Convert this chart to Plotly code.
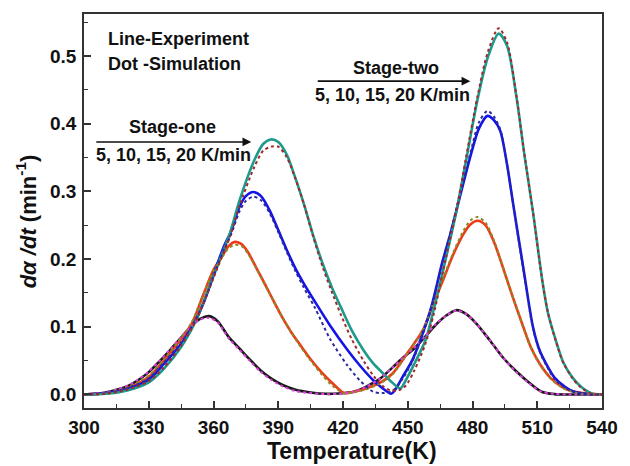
import plotly.graph_objects as go

# ---------------- data ----------------
# 5 K/min experiment (black) and simulation (magenta dots)
T_5 = [300, 305, 310, 315, 320, 325, 330, 335, 340, 345, 350, 354, 358, 362, 367, 372, 377, 382, 387, 392,
       398, 405, 412, 418, 425, 431, 437, 443, 448, 453, 458, 463, 468, 472.5, 477, 482, 488, 494, 500, 506,
       512, 518, 525, 540]
exp_5 = [0, 0.001, 0.003, 0.007, 0.012, 0.021, 0.033, 0.049, 0.066, 0.084, 0.102, 0.112, 0.1157, 0.108, 0.085,
         0.068, 0.051, 0.035, 0.023, 0.014, 0.007, 0.003, 0.001, 0.0015, 0.004, 0.012, 0.023, 0.040, 0.055, 0.068,
         0.085, 0.103, 0.117, 0.1245, 0.119, 0.104, 0.080, 0.055, 0.035, 0.018, 0.004, 0.0005, 0, 0]
sim_5 = [0, 0.001, 0.003, 0.007, 0.013, 0.022, 0.034, 0.050, 0.067, 0.085, 0.102, 0.111, 0.113, 0.106, 0.083,
         0.066, 0.049, 0.033, 0.021, 0.012, 0.005, 0.002, 0.0005, 0.001, 0.004, 0.012, 0.023, 0.040, 0.055, 0.069,
         0.086, 0.104, 0.117, 0.124, 0.119, 0.104, 0.080, 0.055, 0.034, 0.017, 0.004, 0.001, 0, 0]

# 10 K/min experiment (red) and simulation (olive dots)
T_10 = [300, 310, 320, 330, 337, 345, 350, 355, 360, 364.5, 367, 370, 373, 376, 380, 384, 388, 392, 396, 400,
        405, 410, 415, 420.5, 425, 430, 437, 443, 450, 457, 462, 466, 471, 476, 479, 482.3, 486, 490, 493, 498,
        503.5, 507, 511, 516, 521.6, 526, 531, 540]
exp_10 = [0, 0.002, 0.009, 0.026, 0.050, 0.082, 0.105, 0.145, 0.184, 0.207, 0.219, 0.2254, 0.222, 0.210, 0.186,
          0.162, 0.137, 0.113, 0.092, 0.074, 0.052, 0.033, 0.017, 0.002, 0.004, 0.008, 0.017, 0.031, 0.062, 0.095,
          0.135, 0.166, 0.206, 0.238, 0.251, 0.2565, 0.250, 0.225, 0.198, 0.150, 0.100, 0.070, 0.046, 0.025, 0.011,
          0.005, 0.002, 0]
sim_10 = [0, 0.002, 0.010, 0.028, 0.052, 0.084, 0.107, 0.146, 0.182, 0.205, 0.216, 0.221, 0.219, 0.208, 0.185,
          0.161, 0.137, 0.114, 0.092, 0.072, 0.050, 0.030, 0.013, 0.002, 0.003, 0.007, 0.016, 0.030, 0.061, 0.095,
          0.136, 0.168, 0.209, 0.243, 0.257, 0.262, 0.254, 0.227, 0.199, 0.150, 0.099, 0.069, 0.045, 0.024, 0.010,
          0.004, 0.001, 0]

# 15 K/min experiment (blue) and simulation (navy dots)
T_15 = [300, 310, 320, 330, 337, 345, 351, 356, 361, 365, 368, 372, 375, 378.5, 382, 386, 390, 394, 398, 402,
        407, 414, 422, 428, 434, 438, 442.3, 444, 448, 452, 456, 461, 466, 470, 474, 479.3, 483, 486.9, 490, 492.9,
        496, 498.9, 503.5, 508, 511, 514, 518, 523, 527, 532, 540]
exp_15 = [0, 0.002, 0.008, 0.022, 0.045, 0.075, 0.105, 0.140, 0.186, 0.220, 0.240, 0.277, 0.293, 0.299, 0.293,
          0.272, 0.243, 0.213, 0.186, 0.163, 0.137, 0.102, 0.066, 0.042, 0.021, 0.010, 0.001, 0.006, 0.028, 0.050,
          0.082, 0.130, 0.195, 0.240, 0.290, 0.355, 0.393, 0.4115, 0.405, 0.389, 0.340, 0.280, 0.188, 0.100, 0.066,
          0.046, 0.025, 0.011, 0.004, 0.001, 0]
sim_15 = [0, 0.002, 0.009, 0.024, 0.047, 0.077, 0.106, 0.140, 0.183, 0.215, 0.235, 0.270, 0.286, 0.292, 0.287,
          0.268, 0.240, 0.210, 0.182, 0.157, 0.128, 0.082, 0.043, 0.020, 0.004, 0.002, 0.004, 0.008, 0.025, 0.048,
          0.080, 0.128, 0.195, 0.242, 0.292, 0.360, 0.402, 0.419, 0.410, 0.391, 0.340, 0.279, 0.185, 0.098, 0.064,
          0.044, 0.023, 0.010, 0.004, 0.001, 0]

# 20 K/min experiment (teal) and simulation (dark red dots)
T_20 = [300, 310, 320, 330, 337, 345, 352, 357, 361.6, 367.6, 372.1, 378.9, 383, 386.5, 390, 394, 397.8, 402, 406,
        410.6, 415, 419, 424, 429.5, 434, 438.6, 442, 446.5, 449.1, 453, 458.2, 462, 466.5, 472.5, 477, 482.3, 487,
        492.1, 496, 500.4, 504, 508, 512.5, 515, 518.6, 522, 526.1, 530, 535.2, 540]
exp_20 = [0, 0.001, 0.006, 0.018, 0.038, 0.070, 0.110, 0.150, 0.188, 0.238, 0.287, 0.346, 0.370, 0.3767, 0.373,
          0.354, 0.321, 0.280, 0.237, 0.193, 0.157, 0.129, 0.095, 0.0654, 0.046, 0.031, 0.020, 0.009, 0.021, 0.045,
          0.080, 0.125, 0.185, 0.270, 0.345, 0.435, 0.497, 0.533, 0.515, 0.4387, 0.355, 0.270, 0.165, 0.120, 0.080,
          0.048, 0.026, 0.012, 0.0015, 0]
sim_20 = [0, 0.001, 0.007, 0.020, 0.040, 0.072, 0.110, 0.148, 0.185, 0.233, 0.279, 0.336, 0.360, 0.366, 0.366,
          0.350, 0.320, 0.280, 0.235, 0.188, 0.150, 0.118, 0.082, 0.050, 0.028, 0.012, 0.006, 0.007, 0.013, 0.035,
          0.075, 0.118, 0.185, 0.272, 0.350, 0.440, 0.505, 0.541, 0.520, 0.440, 0.356, 0.270, 0.164, 0.120, 0.079,
          0.047, 0.025, 0.011, 0.001, 0]

x_ticks = [300, 330, 360, 390, 420, 450, 480, 510, 540]
y_ticks = [0.0, 0.1, 0.2, 0.3, 0.4, 0.5]

# ---------------- styles ----------------
FONT = "Liberation Sans, Arial, sans-serif"
exp_series = [(T_5, exp_5, "#1a1a1a"), (T_10, exp_10, "#f03a16"),
              (T_15, exp_15, "#1414e6"), (T_20, exp_20, "#1e9a8c")]
sim_series = [(T_5, sim_5, "#e040e0"), (T_10, sim_10, "#8a8a2a"),
              (T_15, sim_15, "#2a2aa0"), (T_20, sim_20, "#a02a2a")]

fig = go.Figure()
for t, v, c in exp_series:
    fig.add_trace(go.Scatter(x=t, y=v, mode="lines",
                             line=dict(color=c, width=2.6, shape="spline", smoothing=0.8),
                             showlegend=False, hoverinfo="skip"))
for t, v, c in sim_series:
    fig.add_trace(go.Scatter(x=t, y=v, mode="lines",
                             line=dict(color=c, width=2, dash="dot", shape="spline", smoothing=0.8),
                             showlegend=False, hoverinfo="skip"))

axis_common = dict(showline=True, linewidth=1.6, linecolor="#333333", mirror=True,
                   ticks="inside", ticklen=7, tickwidth=1.5, tickcolor="#333333",
                   showgrid=False, zeroline=False,
                   tickfont=dict(family=FONT, size=19, color="#111111", weight="bold"))

fig.update_xaxes(range=[300, 540], tickvals=x_ticks, ticklabelstandoff=1,
                 minor=dict(ticks="inside", dtick=15, tick0=300, ticklen=4, tickwidth=1.3, tickcolor="#333333"),
                 **axis_common)
fig.update_yaxes(range=[-0.02, 0.562], tickvals=y_ticks, tickformat=".1f", ticklabelstandoff=2,
                 minor=dict(ticks="inside", dtick=0.05, tick0=0, ticklen=4, tickwidth=1.3, tickcolor="#333333"),
                 **axis_common)

txt = dict(family=FONT, size=18, color="#111111")
ann = [
    dict(x=310.4, y=0.525, text="<b>Line-Experiment</b>", xanchor="left"),
    dict(x=310.4, y=0.488, text="<b>Dot -Simulation</b>", xanchor="left"),
    dict(x=341.2, y=0.395, text="<b>Stage-one</b>", xanchor="center"),
    dict(x=341.3, y=0.3535, text="<b>5, 10, 15, 20 K/min</b>", xanchor="center"),
    dict(x=444.6, y=0.482, text="<b>Stage-two</b>", xanchor="center"),
    dict(x=443.1, y=0.442, text="<b>5, 10, 15, 20 K/min</b>", xanchor="center"),
]
for a in ann:
    fig.add_annotation(xref="x", yref="y", showarrow=False, yanchor="middle", font=txt, **a)

# arrows
for (x0, x1, yy) in [(305.0, 377.5, 0.373), (407.6, 479.0, 0.4628)]:
    fig.add_annotation(xref="x", yref="y", axref="x", ayref="y", x=x1, y=yy, ax=x0, ay=yy,
                       text="", showarrow=True, arrowhead=2, arrowsize=1.1, arrowwidth=1.6,
                       arrowcolor="#111111")

# axis titles as annotations
fig.add_annotation(xref="paper", yref="paper", x=(358 - 84) / 530, y=(408 - 451) / 394,
                   text="<b>Temperature(K)</b>", showarrow=False, xanchor="center", yanchor="middle",
                   font=dict(family=FONT, size=23, color="#111111"))
fig.add_annotation(xref="paper", yref="paper", x=(25 - 84) / 530, y=(408 - 221) / 394,
                   text="<b><i>dα /dt</i> (min<sup>-1</sup>)</b>", showarrow=False, textangle=-90,
                   xanchor="center", yanchor="middle",
                   font=dict(family=FONT, size=22, color="#111111"))

fig.update_layout(width=630, height=466, margin=dict(l=84, r=16, t=14, b=58),
                  plot_bgcolor="white", paper_bgcolor="white")

fig.write_html("out.html")
